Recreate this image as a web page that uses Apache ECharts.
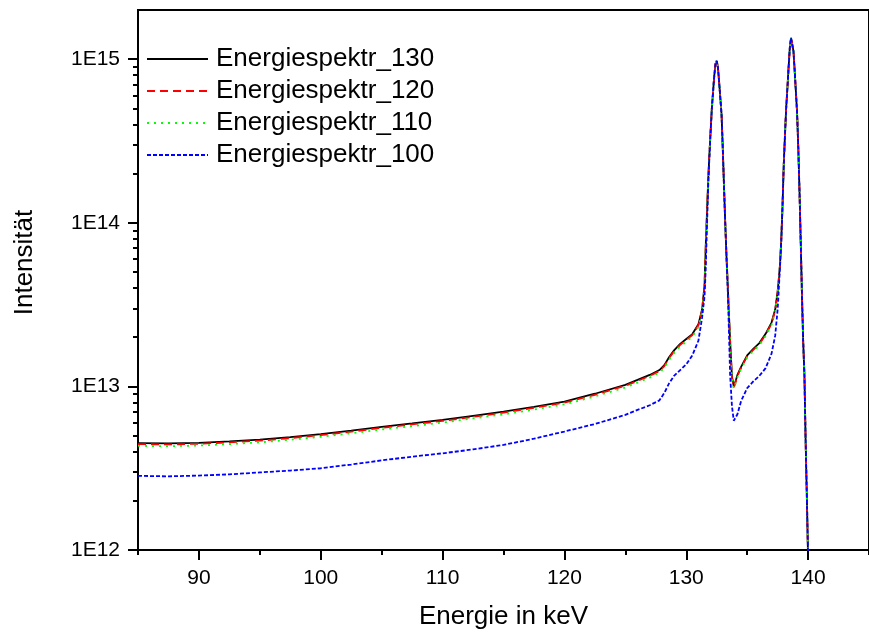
<!DOCTYPE html>
<html><head><meta charset="utf-8">
<script src="https://cdn.jsdelivr.net/npm/echarts@6/dist/echarts.min.js"></script>
<style>html,body{margin:0;padding:0;background:#fff}#c{width:869px;height:635px}</style>
</head><body><div id="c"></div>
<script>
const energy = [85,87.5,90,92.5,95,97.5,100,102.5,105,107.5,110,112.5,115,117.5,120,122.5,125,
  126,127,127.8,128.2,128.6,129,129.5,130,130.5,131,131.3,131.5,
  131.6,131.7,131.8,131.9,132.0,132.1,132.2,132.3,132.4,132.5,132.6,132.7,132.8,132.9,133.0,133.1,133.2,133.3,133.4,133.5,133.6,
  133.75,133.9,134.0,134.2,134.5,135.0,135.5,136.0,136.5,137.0,137.3,137.5,
  137.6,137.7,137.8,137.9,138.0,138.1,138.2,138.3,138.4,138.5,138.6,138.7,138.8,138.9,139.0,139.1,139.2,139.3,139.4,139.5,139.6,139.7,139.8,139.9,140.0];

const spektr130 = [4.50e12,4.48e12,4.52e12,4.61e12,4.73e12,4.90e12,5.11e12,5.37e12,5.66e12,5.94e12,6.24e12,6.61e12,7.01e12,7.50e12,8.07e12,9.02e12,1.023e13,
  1.096e13,1.175e13,1.259e13,1.349e13,1.514e13,1.660e13,1.820e13,1.950e13,2.089e13,2.399e13,2.951e13,4.169e13,
  7.244e13,1.148e14,1.820e14,2.630e14,3.631e14,5.012e14,6.310e14,7.943e14,9.333e14,9.772e14,8.913e14,7.244e14,5.754e14,4.571e14,2.818e14,1.660e14,1.000e14,6.310e13,4.266e13,2.818e13,1.905e13,
  1.148e13,1.000e13,1.047e13,1.175e13,1.318e13,1.549e13,1.698e13,1.841e13,2.089e13,2.455e13,2.951e13,3.802e13,
  4.571e13,5.623e13,7.943e13,1.259e14,2.239e14,3.388e14,5.012e14,6.607e14,8.913e14,1.175e15,1.349e15,1.318e15,1.122e15,8.511e14,6.310e14,4.677e14,2.818e14,1.514e14,7.413e13,3.548e13,1.862e13,1.175e13,4.571e12,2.089e12,8.913e11];

const spektr120 = [4.44e12,4.42e12,4.46e12,4.55e12,4.66e12,4.83e12,5.04e12,5.29e12,5.58e12,5.86e12,6.15e12,6.52e12,6.91e12,7.40e12,7.96e12,8.89e12,1.009e13,
  1.081e13,1.159e13,1.241e13,1.330e13,1.493e13,1.637e13,1.795e13,1.923e13,2.060e13,2.365e13,2.910e13,4.110e13,
  7.10e13,1.140e14,1.810e14,2.630e14,3.631e14,5.012e14,6.310e14,7.943e14,9.333e14,9.772e14,8.913e14,7.244e14,5.754e14,4.571e14,2.818e14,1.660e14,1.000e14,6.310e13,4.266e13,2.800e13,1.880e13,
  1.132e13,0.986e13,1.032e13,1.159e13,1.300e13,1.527e13,1.674e13,1.815e13,2.060e13,2.420e13,2.910e13,3.750e13,
  4.530e13,5.600e13,7.943e13,1.259e14,2.239e14,3.388e14,5.012e14,6.607e14,8.913e14,1.175e15,1.349e15,1.318e15,1.122e15,8.511e14,6.310e14,4.677e14,2.818e14,1.514e14,7.413e13,3.548e13,1.862e13,1.175e13,4.571e12,2.089e12,8.913e11];

const spektr110 = [4.33e12,4.31e12,4.35e12,4.44e12,4.55e12,4.72e12,4.92e12,5.17e12,5.45e12,5.72e12,6.01e12,6.37e12,6.75e12,7.22e12,7.77e12,8.69e12,9.85e12,
  1.055e13,1.132e13,1.212e13,1.299e13,1.458e13,1.599e13,1.753e13,1.878e13,2.012e13,2.310e13,2.842e13,4.040e13,
  7.00e13,1.130e14,1.800e14,2.630e14,3.631e14,5.012e14,6.310e14,7.943e14,9.333e14,9.772e14,8.913e14,7.244e14,5.754e14,4.571e14,2.818e14,1.660e14,1.000e14,6.310e13,4.266e13,2.780e13,1.860e13,
  1.115e13,0.970e13,1.015e13,1.140e13,1.278e13,1.502e13,1.647e13,1.786e13,2.026e13,2.381e13,2.862e13,3.690e13,
  4.500e13,5.580e13,7.943e13,1.259e14,2.239e14,3.388e14,5.012e14,6.607e14,8.913e14,1.175e15,1.349e15,1.318e15,1.122e15,8.511e14,6.310e14,4.677e14,2.818e14,1.514e14,7.413e13,3.548e13,1.862e13,1.175e13,4.571e12,2.089e12,8.913e11];

const spektr100 = [2.84e12,2.82e12,2.85e12,2.90e12,2.98e12,3.06e12,3.16e12,3.33e12,3.53e12,3.72e12,3.90e12,4.12e12,4.39e12,4.79e12,5.30e12,5.89e12,6.70e12,
  7.18e12,7.67e12,8.22e12,9.12e12,1.047e13,1.161e13,1.259e13,1.365e13,1.549e13,1.905e13,2.630e13,3.548e13,
  5.248e13,9.550e13,1.660e14,2.512e14,3.631e14,5.012e14,6.310e14,7.943e14,9.333e14,9.772e14,8.913e14,7.244e14,5.754e14,4.571e14,2.818e14,1.660e14,1.000e14,6.310e13,3.981e13,2.239e13,1.175e13,
  7.59e12,6.17e12,6.17e12,6.76e12,8.13e12,9.77e12,1.072e13,1.161e13,1.288e13,1.585e13,2.042e13,2.951e13,
  3.981e13,5.495e13,7.762e13,1.259e14,2.239e14,3.388e14,5.012e14,6.607e14,8.913e14,1.175e15,1.349e15,1.318e15,1.122e15,8.511e14,6.310e14,4.677e14,2.818e14,1.514e14,7.413e13,3.548e13,1.862e13,1.175e13,4.571e12,2.089e12,8.913e11];

const seriesNames = ['Energiespektr_130','Energiespektr_120','Energiespektr_110','Energiespektr_100'];
const xMajorTicks = [90,100,110,120,130,140];
const xMinorTicks = [85,95,105,115,125,135,145];
const yMajorTicks = [1e12,1e13,1e14,1e15];
const yMinorTicks = [2e12,3e12,4e12,5e12,6e12,7e12,8e12,9e12,
  2e13,3e13,4e13,5e13,6e13,7e13,8e13,9e13,
  2e14,3e14,4e14,5e14,6e14,7e14,8e14,9e14,2e15];

const FONT = '"Liberation Sans", Arial, Helvetica, sans-serif';
const pairs = arr => energy.map((e, i) => [e, arr[i]]);

const styles = [
  {color:'#000000', type:'solid'},
  {color:'#ff0000', type:[8,5]},
  {color:'#00ff00', type:[2,5]},
  {color:'#0000ff', type:[4,2]}
];
const datas = [spektr130, spektr120, spektr110, spektr100];

const chart = echarts.init(document.getElementById('c'), null, {renderer:'canvas'});
chart.setOption({
  animation: false,
  backgroundColor: '#ffffff',
  grid: {left:138, top:10, right:-2, bottom:85, show:true, borderColor:'#000', borderWidth:2, backgroundColor:'transparent'},
  legend: {
    orient:'vertical', left:141, top:41, itemWidth:61, itemHeight:14, itemGap:6,
    itemStyle:{opacity:0},
    textStyle:{fontFamily:FONT, fontSize:26, color:'#000', padding:[0,0,0,3]},
    data: seriesNames
  },
  xAxis: [{
    type:'value', min:85, max:145, position:'bottom',
    name:'Energie in keV', nameLocation:'middle', nameGap:54,
    nameTextStyle:{fontFamily:FONT, fontSize:26, color:'#000'},
    axisLine:{show:true, onZero:false, lineStyle:{color:'#000', width:2}},
    axisTick:{show:true, inside:false, length:10, lineStyle:{color:'#000', width:2}, customValues:xMajorTicks},
    axisLabel:{show:true, margin:18, fontFamily:FONT, fontSize:21, color:'#000', customValues:xMajorTicks},
    splitLine:{show:false}
  },{
    type:'value', min:85, max:145, position:'bottom',
    axisLine:{show:false},
    axisTick:{show:true, inside:false, length:5, lineStyle:{color:'#000', width:2}, customValues:xMinorTicks},
    axisLabel:{show:false},
    splitLine:{show:false}
  }],
  yAxis: [{
    type:'log', logBase:10, min:1e12, max:2e15, position:'left',
    name:'Intensität', nameLocation:'middle', nameGap:100, nameRotate:90,
    nameTextStyle:{fontFamily:FONT, fontSize:26, color:'#000', padding:[0,0,0,35]},
    axisLine:{show:true, onZero:false, lineStyle:{color:'#000', width:2}},
    axisTick:{show:true, inside:false, length:10, lineStyle:{color:'#000', width:2}, customValues:yMajorTicks},
    axisLabel:{show:true, margin:18, fontFamily:FONT, fontSize:21, color:'#000', customValues:yMajorTicks,
      formatter: v => '1E' + Math.round(Math.log10(v))},
    splitLine:{show:false}, minorTick:{show:false}
  },{
    type:'log', logBase:10, min:1e12, max:2e15, position:'left',
    axisLine:{show:false},
    axisTick:{show:true, inside:false, length:5, lineStyle:{color:'#000', width:2}, customValues:yMinorTicks},
    axisLabel:{show:false},
    splitLine:{show:false}
  }],
  series: datas.map((d, i) => ({
    name: seriesNames[i], type:'line', xAxisIndex:0, yAxisIndex:0,
    data: pairs(d), showSymbol:false, symbol:'none', smooth:false, clip:true,
    lineStyle:{color:styles[i].color, width:1.8, type:styles[i].type},
    itemStyle:{color:styles[i].color}
  }))
});
</script></body></html>
